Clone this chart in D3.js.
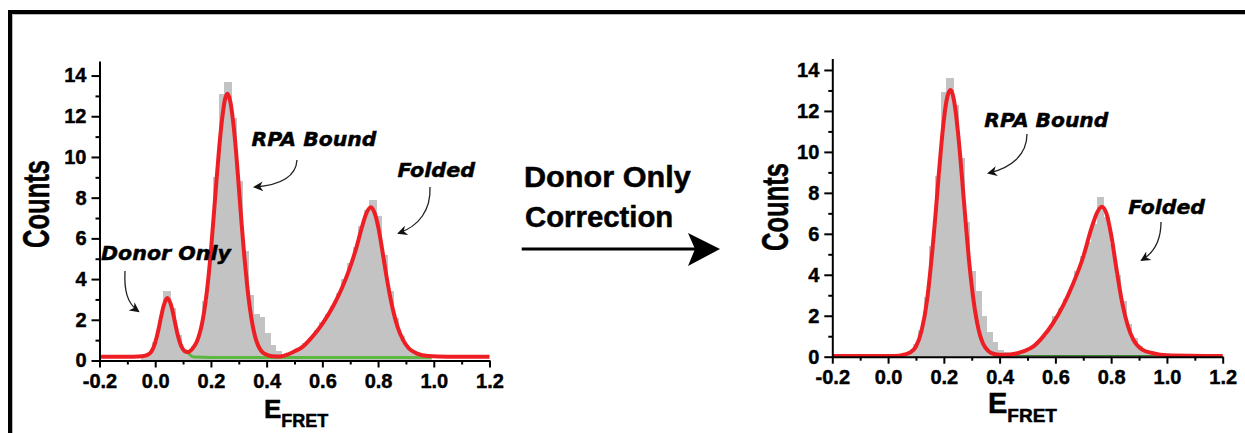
<!DOCTYPE html>
<html>
<head>
<meta charset="utf-8">
<script src="https://cdn.jsdelivr.net/npm/d3@7"></script>
<style>
  html, body { margin: 0; padding: 0; background: #fff; }
  svg { display: block; }
  .tick text { font-family: "Liberation Sans", Arial, sans-serif; font-weight: bold; font-size: 20px; fill: #000; stroke: #000; stroke-width: 0.45px; }
  .note { font-family: "DejaVu Sans", Verdana, sans-serif; font-weight: bold; font-style: italic; font-size: 19.5px; fill: #000; stroke: #000; stroke-width: 0.45px; }
  .lab { font-family: "Liberation Sans", Arial, sans-serif; font-weight: bold; fill: #000; stroke: #000; stroke-width: 0.5px; }
  .bin { shape-rendering: crispEdges; }
</style>
</head>
<body>
<svg id="fig" width="1245" height="433"></svg>
<script>
// ---- shared axis labels ----
const xTickValues = [-0.2, 0.0, 0.2, 0.4, 0.6, 0.8, 1.0, 1.2];
const xTickLabels = ["-0.2", "0.0", "0.2", "0.4", "0.6", "0.8", "1.0", "1.2"];
const xMinorTicks = [-0.1, 0.1, 0.3, 0.5, 0.7, 0.9, 1.1];
const yTickValues = [0, 2, 4, 6, 8, 10, 12, 14];
const yTickLabels = ["0", "2", "4", "6", "8", "10", "12", "14"];
const yMinorTicks = [1, 3, 5, 7, 9, 11, 13];
const binWidth = 0.02;

// ---- before correction: histogram (bin centres / counts) ----
const rawBinE = [-0.04, -0.02, 0.00, 0.02, 0.04, 0.06, 0.08, 0.10, 0.12, 0.14, 0.16, 0.18, 0.20, 0.22, 0.24, 0.26, 0.28, 0.30, 0.32, 0.34, 0.36, 0.38, 0.40, 0.42, 0.44, 0.46, 0.48, 0.50, 0.52, 0.54, 0.56, 0.58, 0.60, 0.62, 0.64, 0.66, 0.68, 0.70, 0.72, 0.74, 0.76, 0.78, 0.80, 0.82, 0.84, 0.86, 0.88, 0.90, 0.92, 0.94, 0.96, 0.98];
const rawBinCounts = [0.1, 0.35, 0.9, 2.0, 3.4, 2.6, 1.25, 0.55, 0.4, 0.7, 1.3, 2.9, 5.5, 9.0, 13.1, 13.7, 11.9, 8.8, 5.4, 3.2, 2.3, 2.15, 1.35, 0.75, 0.45, 0.3, 0.35, 0.45, 0.6, 0.85, 1.1, 1.5, 1.9, 2.3, 2.7, 3.3, 4.0, 4.8, 5.6, 6.6, 7.4, 7.9, 7.1, 5.2, 3.4, 2.1, 1.2, 0.7, 0.4, 0.25, 0.15, 0.1];

// multi-peak fit through the raw histogram
const rawFitE = [-0.2, -0.1, -0.06, -0.04, -0.02, 0.0, 0.01, 0.02, 0.03, 0.044, 0.06, 0.07, 0.08, 0.09, 0.10, 0.11, 0.12, 0.13, 0.14, 0.15, 0.16, 0.17, 0.18, 0.19, 0.20, 0.21, 0.22, 0.23, 0.24, 0.25, 0.259, 0.27, 0.28, 0.29, 0.30, 0.31, 0.32, 0.33, 0.34, 0.35, 0.36, 0.37, 0.38, 0.40, 0.42, 0.45, 0.48, 0.50, 0.53, 0.56, 0.60, 0.64, 0.67, 0.70, 0.72, 0.74, 0.757, 0.774, 0.79, 0.80, 0.81, 0.82, 0.83, 0.85, 0.87, 0.89, 0.91, 0.94, 0.98, 1.05, 1.2];
const rawFitCounts = [0.19, 0.19, 0.2, 0.22, 0.34, 0.88, 1.41, 2.07, 2.68, 3.07, 2.57, 1.94, 1.30, 0.82, 0.55, 0.43, 0.42, 0.52, 0.70, 0.95, 1.35, 1.95, 2.80, 3.95, 5.40, 7.10, 8.85, 10.5, 11.85, 12.8, 13.1, 12.7, 11.7, 10.3, 8.55, 6.75, 5.1, 3.7, 2.55, 1.7, 1.1, 0.72, 0.48, 0.28, 0.21, 0.20, 0.32, 0.45, 0.68, 1.1, 1.8, 2.7, 3.55, 4.6, 5.45, 6.45, 7.2, 7.53, 7.15, 6.6, 5.85, 5.0, 4.15, 2.7, 1.65, 1.0, 0.6, 0.34, 0.22, 0.19, 0.19];

// baseline component
const rawBaseE = [0.115, 0.125, 0.14, 0.2, 0.5, 0.8, 0.99];
const rawBaseCounts = [0.42, 0.28, 0.17, 0.15, 0.15, 0.15, 0.15];

// ---- after donor-only correction ----
const corrBinE = [0.06, 0.08, 0.10, 0.12, 0.14, 0.16, 0.18, 0.20, 0.22, 0.24, 0.26, 0.28, 0.30, 0.32, 0.34, 0.36, 0.38, 0.40, 0.42, 0.44, 0.46, 0.48, 0.50, 0.52, 0.54, 0.56, 0.58, 0.60, 0.62, 0.64, 0.66, 0.68, 0.70, 0.72, 0.74, 0.76, 0.78, 0.80, 0.82, 0.84, 0.86, 0.88, 0.90, 0.92, 0.94, 0.96];
const corrBinCounts = [0.15, 0.3, 0.6, 1.3, 2.9, 5.4, 8.8, 12.9, 13.6, 12.3, 9.7, 6.6, 4.2, 3.2, 2.0, 1.2, 0.7, 0.35, 0.25, 0.15, 0.12, 0.2, 0.35, 0.5, 0.7, 1.0, 1.4, 2.0, 2.4, 2.8, 3.4, 4.2, 4.9, 5.6, 6.5, 7.8, 6.8, 5.5, 4.0, 2.7, 1.6, 0.9, 0.5, 0.3, 0.15, 0.1];

const corrFitE = [-0.2, 0.0, 0.04, 0.06, 0.08, 0.10, 0.12, 0.14, 0.15, 0.16, 0.17, 0.18, 0.19, 0.20, 0.21, 0.223, 0.23, 0.24, 0.25, 0.26, 0.27, 0.28, 0.29, 0.30, 0.31, 0.32, 0.33, 0.34, 0.36, 0.38, 0.40, 0.43, 0.46, 0.49, 0.52, 0.556, 0.59, 0.63, 0.66, 0.70, 0.73, 0.75, 0.766, 0.783, 0.80, 0.82, 0.84, 0.86, 0.88, 0.91, 0.95, 1.0, 1.2];
const corrFitCounts = [0.03, 0.03, 0.05, 0.11, 0.21, 0.50, 1.26, 2.78, 3.98, 5.35, 6.91, 8.60, 10.20, 11.56, 12.53, 13.02, 12.88, 12.21, 11.05, 9.58, 7.93, 6.29, 4.74, 3.46, 2.41, 1.62, 1.04, 0.66, 0.27, 0.13, 0.09, 0.10, 0.16, 0.28, 0.49, 0.98, 1.6, 2.55, 3.45, 4.88, 6.3, 7.05, 7.32, 7.0, 5.95, 4.2, 2.6, 1.5, 0.82, 0.36, 0.17, 0.07, 0.03];

const corrBaseE = [0.38, 1.0];
const corrBaseCounts = [0.05, 0.05];

const svg = d3.select("#fig");

// arrowhead used by the annotation pointers
const defs = svg.append("defs");
defs.append("marker")
  .attr("id", "head")
  .attr("viewBox", "0 0 10 10")
  .attr("refX", 8).attr("refY", 5)
  .attr("markerUnits", "userSpaceOnUse")
  .attr("markerWidth", 11).attr("markerHeight", 10)
  .attr("orient", "auto")
  .append("path")
  .attr("d", "M0,0 L10,5 L0,10 L3,5 Z")
  .attr("fill", "#111");

// frame
svg.append("path").attr("d", "M10,433 L10,12 L1245,12")
  .attr("fill", "none").attr("stroke", "#000").attr("stroke-width", 4);
svg.append("path").attr("d", "M12.5,433 L12.5,14.5 L1245,14.5")
  .attr("fill", "none").attr("stroke", "#bbb").attr("stroke-width", 1);

function drawPanel(p) {
  const x = d3.scaleLinear().domain([-0.2, 1.2]).range([p.x0, p.x1]);
  const y = d3.scaleLinear().domain([0, p.yTop]).range([p.y0, p.y1]);
  const g = svg.append("g");

  // histogram
  g.selectAll("rect.bin")
    .data(d3.zip(p.binE, p.binC))
    .join("rect")
    .attr("class", "bin")
    .attr("x", d => Math.floor(x(d[0] - binWidth / 2)))
    .attr("width", d => Math.ceil(x(d[0] + binWidth / 2)) - Math.floor(x(d[0] - binWidth / 2)) + 1)
    .attr("y", d => y(d[1]))
    .attr("height", d => y(0) - y(d[1]))
    .attr("fill", "#c3c3c3");

  const line = d3.line().x(d => x(d[0])).y(d => y(d[1])).curve(d3.curveMonotoneX);

  // baseline component
  g.append("path")
    .datum(d3.zip(p.baseE, p.baseC))
    .attr("d", line)
    .attr("fill", "none")
    .attr("stroke", p.baseColor)
    .attr("stroke-width", p.baseWidth);

  // fitted envelope
  g.append("path")
    .datum(d3.zip(p.fitE, p.fitC))
    .attr("d", line)
    .attr("fill", "none")
    .attr("stroke", "#ee1f24")
    .attr("stroke-width", 4)
    .attr("stroke-linejoin", "round");

  // axes
  g.append("g").attr("transform", `translate(0,${p.y0})`)
    .call(d3.axisBottom(x).tickValues(xTickValues).tickSize(7).tickSizeOuter(0)
      .tickPadding(p.xPad).tickFormat((d, i) => xTickLabels[i]));
  g.append("g").attr("transform", `translate(0,${p.y0})`)
    .call(d3.axisBottom(x).tickValues(xMinorTicks).tickSize(4).tickFormat(""))
    .call(a => a.select(".domain").remove());
  g.append("g").attr("transform", `translate(${p.x0},0)`)
    .call(d3.axisLeft(y).tickValues(yTickValues).tickSize(8).tickSizeOuter(0)
      .tickPadding(5).tickFormat((d, i) => yTickLabels[i]));
  g.append("g").attr("transform", `translate(${p.x0},0)`)
    .call(d3.axisLeft(y).tickValues(yMinorTicks).tickSize(4).tickFormat(""))
    .call(a => a.select(".domain").remove());
  g.selectAll(".domain").attr("stroke", "#000").attr("stroke-width", 2);
  g.selectAll(".tick line").attr("stroke", "#000").attr("stroke-width", 2);

  // axis titles
  g.append("text").attr("class", "lab")
    .attr("transform", `translate(${p.countsX},${p.countsY}) rotate(-90)`)
    .attr("text-anchor", "middle")
    .attr("font-size", 36)
    .attr("textLength", 88).attr("lengthAdjust", "spacingAndGlyphs")
    .text("Counts");
  const t = g.append("text").attr("class", "lab")
    .attr("x", p.eX).attr("y", p.eY);
  t.append("tspan").attr("font-size", p.eSize).text("E");
  t.append("tspan").attr("font-size", p.subSize).attr("dy", p.subDy).text("FRET");

  // annotations
  p.notes.forEach(n => {
    g.append("text").attr("class", "note")
      .attr("x", n.x).attr("y", n.y)
      .attr("textLength", n.w).attr("lengthAdjust", "spacingAndGlyphs")
      .text(n.text);
  });
  p.pointers.forEach(d => {
    g.append("path").attr("d", d)
      .attr("fill", "none").attr("stroke", "#222").attr("stroke-width", 1.3)
      .attr("marker-end", "url(#head)");
  });
}

drawPanel({
  x0: 99.5, x1: 489.5, y0: 360.5, y1: 60.9, yTop: 14.72, xPad: 6,
  binE: rawBinE, binC: rawBinCounts,
  fitE: rawFitE, fitC: rawFitCounts,
  baseE: rawBaseE, baseC: rawBaseCounts, baseColor: "#5cb840", baseWidth: 3,
  countsX: 49, countsY: 204,
  eX: 264, eY: 417.5, eSize: 26, subSize: 18, subDy: 9,
  notes: [
    { text: "Donor Only", x: 101, y: 260, w: 130 },
    { text: "RPA Bound", x: 251.5, y: 146, w: 125 },
    { text: "Folded", x: 397.5, y: 177.3, w: 77.5 }
  ],
  pointers: [
    "M125,271 C124,290 127,303 138,311",
    "M297,160 C296,176 281,185 255,187",
    "M430,187 C431,210 419,226 399,233"
  ]
});

drawPanel({
  x0: 832.3, x1: 1222.7, y0: 356.7, y1: 58.5, yTop: 14.56, xPad: 6,
  binE: corrBinE, binC: corrBinCounts,
  fitE: corrFitE, fitC: corrFitCounts,
  baseE: corrBaseE, baseC: corrBaseCounts, baseColor: "#3f7f32", baseWidth: 1.2,
  countsX: 788, countsY: 207,
  eX: 988, eY: 412.7, eSize: 29, subSize: 19, subDy: 9,
  notes: [
    { text: "RPA Bound", x: 984.3, y: 126.7, w: 124 },
    { text: "Folded", x: 1128.3, y: 214, w: 76.7 }
  ],
  pointers: [
    "M1027,134 C1027,155 1011,168 989,173",
    "M1161,222 C1161,238 1155,252 1142,260"
  ]
});

// correction step between the two panels
svg.append("text").attr("class", "lab")
  .attr("x", 524).attr("y", 186.7).attr("font-size", 29)
  .attr("textLength", 166.7).attr("lengthAdjust", "spacingAndGlyphs")
  .text("Donor Only");
svg.append("text").attr("class", "lab")
  .attr("x", 525).attr("y", 227.3).attr("font-size", 29)
  .attr("textLength", 148.3).attr("lengthAdjust", "spacingAndGlyphs")
  .text("Correction");
svg.append("line")
  .attr("x1", 521.7).attr("x2", 700).attr("y1", 249).attr("y2", 249)
  .attr("stroke", "#000").attr("stroke-width", 3);
svg.append("path")
  .attr("d", "M720,249 L688,233 L695,249 L688,266 Z")
  .attr("fill", "#000");
</script>
</body>
</html>
